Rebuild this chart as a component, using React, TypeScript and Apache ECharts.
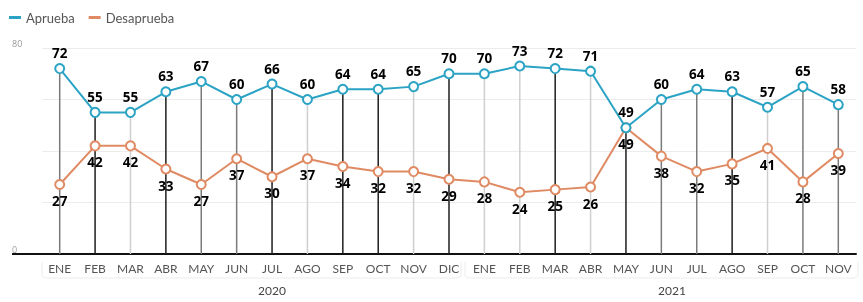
import React, { useEffect, useRef } from "react";
import * as echarts from "echarts";

const months = [
  "ENE", "FEB", "MAR", "ABR", "MAY", "JUN", "JUL", "AGO", "SEP", "OCT", "NOV", "DIC",
  "ENE", "FEB", "MAR", "ABR", "MAY", "JUN", "JUL", "AGO", "SEP", "OCT", "NOV",
];
const aprueba = [72, 55, 55, 63, 67, 60, 66, 60, 64, 64, 65, 70, 70, 73, 72, 71, 49, 60, 64, 63, 57, 65, 58];
const desaprueba = [27, 42, 42, 33, 27, 37, 30, 37, 34, 32, 32, 29, 28, 24, 25, 26, 49, 38, 32, 35, 41, 28, 39];
const yShownTicks = [0, 80];
const years = ["2020", "2021"];
const seriesNames = ["Aprueba", "Desaprueba"];

// drop-line shades (style)
const D = "#1e1e1e", M = "#7a7a7a", L = "#cfcfcf";
const dropColors = [M, D, L, D, M, M, D, L, D, D, L, D, L, L, D, L, D, M, M, D, L, M, M];

export default function App() {
  const ref = useRef<HTMLDivElement>(null);
  useEffect(() => {
    if (!ref.current) return;
    const chart = echarts.init(ref.current, null, { renderer: "svg" });
    const font = "'Open Sans', 'Noto Sans', sans-serif";
    chart.setOption({
      animation: false,
      textStyle: { fontFamily: font },
      legend: {
        data: seriesNames,
        left: 4,
        top: 6,
        icon: "rect",
        itemWidth: 12,
        itemHeight: 3,
        itemGap: 14,
        textStyle: { fontSize: 13, color: "#555", fontFamily: "Lato, sans-serif" },
      },
      grid: { left: 42, right: 7, top: 48, bottom: 48 },
      xAxis: {
        type: "category",
        data: months,
        boundaryGap: true,
        axisLine: { show: true, lineStyle: { color: "#111", width: 2 } },
        axisTick: { show: false },
        axisLabel: { color: "#555", fontSize: 12, margin: 8, fontFamily: "Lato, sans-serif", interval: 0 },
        splitLine: { show: false },
      },
      yAxis: {
        type: "value",
        min: 0,
        max: 80,
        interval: 20,
        axisLine: { show: false },
        axisTick: { show: false },
        splitLine: { lineStyle: { color: "#ececec", width: 1 } },
        axisLabel: {
          formatter: (v: number) => (yShownTicks.includes(v) ? String(v) : ""),
          align: "left",
          verticalAlign: "bottom",
          margin: 30,
          fontSize: 9,
          color: "#999",
        },
      },
      series: [
        {
          type: "bar",
          name: "drop",
          data: aprueba.map((v, i) => ({ value: v, itemStyle: { color: dropColors[i] } })),
          barWidth: 1.5,
          silent: true,
          z: 1,
        },
        {
          type: "line",
          name: seriesNames[0],
          data: aprueba,
          color: "#2ba3c4",
          lineStyle: { width: 2, color: "#2ba3c4" },
          symbol: "emptyCircle",
          symbolSize: 9,
          itemStyle: { color: "#2ba3c4", borderWidth: 2 },
          z: 3,
          label: {
            show: true,
            position: "top",
            distance: 3,
            fontSize: 13.5,
            fontWeight: "bold",
            color: "#000",
          },
        },
        {
          type: "line",
          name: seriesNames[1],
          data: desaprueba,
          color: "#df8a62",
          lineStyle: { width: 2, color: "#df8a62" },
          symbol: "emptyCircle",
          symbolSize: 9,
          itemStyle: { color: "#df8a62", borderWidth: 2 },
          z: 2,
          label: {
            show: true,
            position: "bottom",
            distance: 4,
            fontSize: 13.5,
            fontWeight: "bold",
            color: "#000",
          },
        },
      ],
      graphic: [
        { type: "line", shape: { x1: 12, y1: 254, x2: 42, y2: 254 }, style: { stroke: "#111", lineWidth: 2 } },
        { type: "polyline", shape: { points: [[42, 262], [42, 276], [46, 278], [458, 278], [461, 276], [461, 262]] }, style: { stroke: "#ececec", lineWidth: 1, fill: "none" } },
        { type: "polyline", shape: { points: [[465, 262], [465, 276], [468, 278], [855, 278], [858, 276], [858, 262]] }, style: { stroke: "#ececec", lineWidth: 1, fill: "none" } },
        { type: "text", x: 272, y: 290, style: { text: years[0], fontSize: 12, fill: "#444", align: "center", verticalAlign: "middle", fontFamily: "Lato, sans-serif" } },
        { type: "text", x: 672, y: 290, style: { text: years[1], fontSize: 12, fill: "#444", align: "center", verticalAlign: "middle", fontFamily: "Lato, sans-serif" } },
      ],
    });
    return () => chart.dispose();
  }, []);
  return <div ref={ref} style={{ position: "fixed", left: 0, top: 0, width: 863, height: 302 }} />;
}
